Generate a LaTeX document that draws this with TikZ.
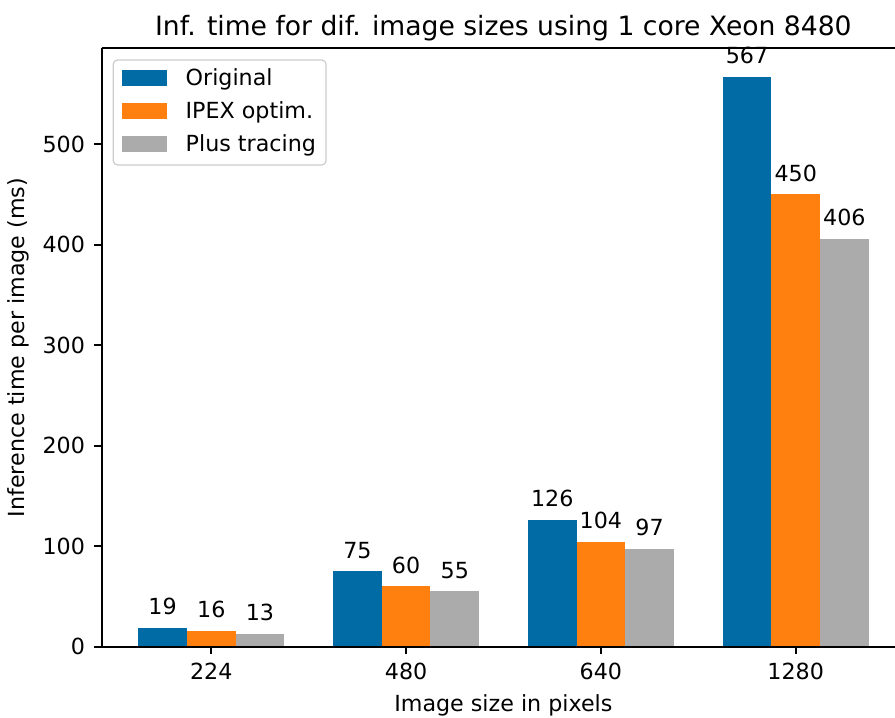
\documentclass[tikz,border=0pt]{standalone}
\usepackage{fontspec}
\setmainfont{DejaVu Sans}
\definecolor{cOrig}{HTML}{006BA4}
\definecolor{cIpex}{HTML}{FF800E}
\definecolor{cTrace}{HTML}{ABABAB}
\definecolor{legendedge}{HTML}{CCCCCC}
\begin{document}
\begin{tikzpicture}[x=0.5pt,y=-0.5pt,
  font=\fontsize{11.1}{13.3}\selectfont,
  every node/.style={inner sep=0pt, outer sep=0pt},
  spine/.style={line width=0.83pt},
  tickmark/.style={line width=0.83pt},
  valuelabel/.style={anchor=base},
  ticklabel/.style={anchor=base},
  titlefont/.style={font=\fontsize{13.3}{16}\selectfont}]
\useasboundingbox (0,0) rectangle (895,718);

% bars, value labels and x ticks
\foreach \g/\a/\b/\c [count=\i from 0] in
  {224/19/16/13, 480/75/60/55, 640/126/104/97, 1280/567/450/406} {
  \pgfmathsetmacro\xc{211.3+194.8*\i}
  \foreach \v/\col/\k in {\a/cOrig/0, \b/cIpex/1, \c/cTrace/2} {
    \pgfmathsetmacro\xb{\xc+48.7*(\k-1)}
    \pgfmathsetmacro\yt{646.7-1.005*\v}
    \fill[\col] (\xb-24.35,646.7) rectangle (\xb+24.35,\yt);
    \node[valuelabel] (val-\i-\k) at (\xb,\yt-13.3) {\v};
  }
  \draw[tickmark] (\xc,646.7) -- (\xc,654);
  \node[ticklabel] (xt-\i) at (\xc,679.5) {\g};
}

% y ticks
\foreach \t in {0,100,...,500} {
  \pgfmathsetmacro\yy{646.7-1.005*\t}
  \draw[tickmark] (94.4,\yy) -- (101.7,\yy);
  \node[anchor=base east] (yt-\t) at (85,\yy+8) {\t};
}

% axes spines
\draw[spine] (101.7,48.3) -- (101.7,646.7);
\draw[spine] (101.7,646.7) -- (895,646.7);
\draw[spine] (101.7,48.3) -- (895,48.3);

% title and axis labels
\node[titlefont, anchor=base] (title) at (503.4,35)
  {Inf. time for dif. image sizes using 1 core Xeon 8480};
\node[anchor=base] (xlabel) at (503.4,711.5) {Image size in pixels};
\node[anchor=base, rotate=90] (ylabel) at (24.5,347.5)
  {Inference time per image (ms)};

% legend
\draw[draw=legendedge, fill=white, fill opacity=0.8, line width=0.6pt,
  rounded corners=2.1pt] (113.3,60) rectangle (326,165);
\fill[cOrig]  (122,70)  rectangle (166.7,85.7);
\fill[cIpex]  (122,103) rectangle (166.7,118.7);
\fill[cTrace] (122,136) rectangle (166.7,151.7);
\node[anchor=base west] (leg-orig)  at (185.7,85.9)  {Original};
\node[anchor=base west] (leg-ipex)  at (185.7,118.9) {IPEX optim.};
\node[anchor=base west] (leg-trace) at (185.7,151.9) {Plus tracing};
\end{tikzpicture}
\end{document}
